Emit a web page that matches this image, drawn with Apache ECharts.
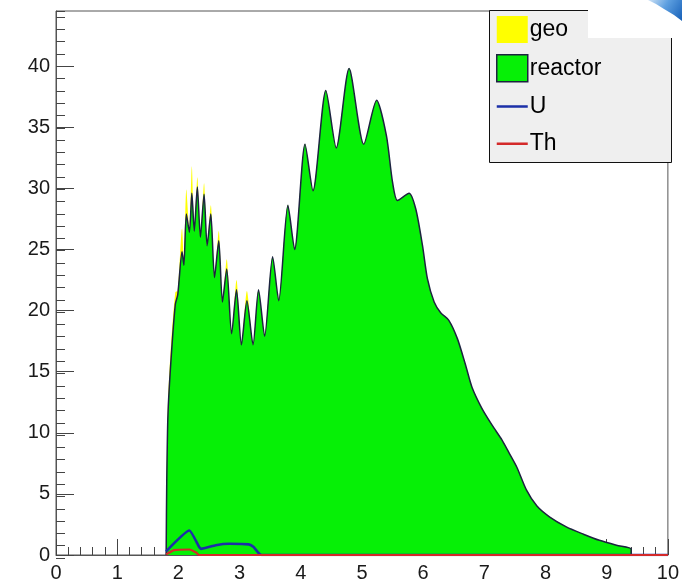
<!DOCTYPE html>
<html>
<head>
<meta charset="utf-8">
<script src="https://cdn.jsdelivr.net/npm/echarts@6/dist/echarts.min.js"></script>
<style>
  html, body { margin: 0; padding: 0; background: #ffffff; }
  #chart { width: 682px; height: 583px; }
</style>
</head>
<body>
<div id="chart"></div>
<script>
// Prompt energy (MeV) sampled along the reactor spectrum
const energy = [
  1.80, 1.81, 1.83, 1.88, 1.95, 1.99, 2.06, 2.09, 2.13, 2.18,
  2.22, 2.26, 2.31, 2.36, 2.42, 2.47, 2.53, 2.59, 2.66, 2.72,
  2.79, 2.87, 2.95, 3.03, 3.12, 3.22, 3.31, 3.41, 3.54, 3.64,
  3.79, 3.90, 4.07, 4.20, 4.41, 4.58, 4.79, 5.03, 5.24, 5.40,
  5.50, 5.58, 5.77, 5.88, 5.99, 6.07, 6.18, 6.29, 6.42, 6.56,
  6.69, 6.80, 6.96, 7.13, 7.29, 7.40, 7.53, 7.69, 7.86, 8.07,
  8.34, 8.62, 8.88, 9.16, 9.40, 9.40
];
// Reactor antineutrino events
const reactor = [
  0.0, 6.0, 11.5, 16.0, 20.5, 21.3, 24.8, 23.7, 27.9, 26.4,
  29.6, 26.5, 30.1, 26.0, 29.5, 25.3, 27.9, 22.7, 25.7, 20.7,
  23.4, 18.1, 21.7, 17.2, 20.8, 17.2, 21.7, 17.9, 24.4, 20.8,
  28.6, 25.0, 33.6, 29.8, 38.0, 33.3, 39.8, 33.6, 37.2, 34.3,
  30.5, 29.0, 29.6, 28.3, 25.3, 22.6, 20.7, 19.8, 19.2, 17.7,
  15.6, 13.7, 12.0, 10.6, 9.4, 8.4, 7.2, 5.3, 4.0, 3.1,
  2.3, 1.7, 1.2, 0.8, 0.5, 0.0
];
// Geoneutrino events stacked on top of the reactor spectrum
const geo = [
  0.0, 0.5, 1.0, 1.2, 1.0, 0.3, 1.9, 0.0, 2.0, 0.0,
  2.2, 0.0, 0.8, 0.0, 0.9, 0.0, 0.7, 0.0, 0.8, 0.0,
  0.8, 0.0, 0.8, 0.0, 0.8, 0.0, 0.0, 0.0, 0.0, 0.0,
  0.0, 0.0, 0.0, 0.0, 0.0, 0.0, 0.0, 0.0, 0.0, 0.0,
  0.0, 0.0, 0.0, 0.0, 0.0, 0.0, 0.0, 0.0, 0.0, 0.0,
  0.0, 0.0, 0.0, 0.0, 0.0, 0.0, 0.0, 0.0, 0.0, 0.0,
  0.0, 0.0, 0.0, 0.0, 0.0, 0.0
];
// Uranium chain geoneutrinos
const uEnergy = [1.80, 2.18, 2.34, 2.37, 2.61, 2.83, 3.15, 3.23, 3.31, 3.36, 10.0];
const uValues = [0.30, 2.00, 0.65, 0.50, 0.80, 0.92, 0.87, 0.65, 0.16, 0.00, 0.00];
// Thorium chain geoneutrinos
const thEnergy = [1.80, 1.93, 2.18, 2.29, 2.34, 10.0];
const thValues = [0.05, 0.40, 0.45, 0.20, 0.00, 0.00];

const xRange = [0, 10];
const yRange = [0, 44.5];
const legendNames = ['geo', 'reactor', 'U', 'Th'];

const GREEN = '#06f006';
const YELLOW = '#ffff00';
const OUTLINE = '#1c2340';
const BLUE = '#1c30a8';
const RED = '#d42a2a';
const FONT = 'Liberation Sans, Arial, Helvetica, sans-serif';

// Legend marker for the line entries: a thin bar centred in a full-height box
// (the two hairline corner dots keep the marker box as tall as the filled ones).
const LINE_ICON = 'path://M0,12.2H32V14.8H0Z M0,0H0.01V0.01H0Z M31.99,26.99H32V27H31.99Z';

const pairs = (xs, ys) => xs.map((x, i) => [x, ys[i]]);
const total = reactor.map((v, i) => v + geo[i]);

const gridBox = { left: 56, right: 10, top: 11, bottom: 25 };

const chart = echarts.init(document.getElementById('chart'), null, { renderer: 'canvas' });

chart.setOption({
  animation: false,
  backgroundColor: '#ffffff',
  grid: [
    Object.assign({ show: true, borderColor: '#555555', borderWidth: 1, backgroundColor: 'transparent' }, gridBox),
    Object.assign({ show: false }, gridBox)
  ],
  xAxis: [
    {
      type: 'value', gridIndex: 0, min: xRange[0], max: xRange[1], interval: 1,
      axisLine: { show: true, lineStyle: { color: '#555555', width: 1 } },
      axisTick: { show: true, inside: true, length: 16, lineStyle: { color: '#444444', width: 1 } },
      minorTick: { show: true, splitNumber: 5, length: 8, lineStyle: { color: '#444444', width: 1 } },
      splitLine: { show: false },
      axisLabel: { fontSize: 20, color: '#1a1a1a', fontFamily: FONT, margin: 8 }
    },
    { type: 'value', gridIndex: 1, min: xRange[0], max: xRange[1], show: false }
  ],
  yAxis: [
    {
      type: 'value', gridIndex: 0, min: yRange[0], max: yRange[1], interval: 5,
      axisLine: { show: true, lineStyle: { color: '#555555', width: 1 } },
      axisTick: { show: true, inside: true, length: 18, lineStyle: { color: '#444444', width: 1 } },
      splitLine: { show: false },
      axisLabel: { fontSize: 20, color: '#1a1a1a', fontFamily: FONT, margin: 6, showMaxLabel: false }
    },
    {
      // secondary scale carrying the unit minor ticks
      type: 'value', gridIndex: 1, min: yRange[0], max: yRange[1], interval: 1,
      axisLine: { show: false },
      axisTick: { show: true, inside: true, length: 9, lineStyle: { color: '#444444', width: 1 } },
      splitLine: { show: false },
      axisLabel: { show: false }
    }
  ],
  legend: {
    left: 489, top: 10, orient: 'vertical',
    padding: [6, 5, 5, 7],
    itemWidth: 31, itemHeight: 27, itemGap: 11,
    selectedMode: false, z: 20,
    textStyle: { fontSize: 23, color: '#000000', fontFamily: FONT, padding: [0, 0, 0, -3] },
    data: [
      { name: legendNames[0], icon: 'rect', itemStyle: { color: YELLOW, borderWidth: 0 } },
      { name: legendNames[1], icon: 'rect', itemStyle: { color: GREEN, borderColor: OUTLINE, borderWidth: 1.5 } },
      { name: legendNames[2], icon: LINE_ICON, itemStyle: { color: BLUE, borderWidth: 0 } },
      { name: legendNames[3], icon: LINE_ICON, itemStyle: { color: RED, borderWidth: 0 } }
    ]
  },
  graphic: [
    { type: 'rect', z: 10, shape: { x: 489.5, y: 10.5, width: 182, height: 152 },
      style: { fill: '#efefef', stroke: '#111111', lineWidth: 1 } },
    { type: 'rect', z: 30, shape: { x: 588, y: 0, width: 94, height: 38 }, style: { fill: '#ffffff' } },
    { type: 'polygon', z: 31,
      shape: { points: [[648, 0], [682, 0], [682, 21], [674, 15], [664, 9], [656, 4]] },
      style: { fill: { type: 'linear', x: 0, y: 0, x2: 1, y2: 1, colorStops: [
        { offset: 0, color: '#cfe3f6' }, { offset: 0.45, color: '#5d9fe0' }, { offset: 1, color: '#1660b8' }
      ] } } }
  ],
  series: [
    {
      name: 'geo', type: 'line', xAxisIndex: 0, yAxisIndex: 0,
      data: pairs(energy, total), symbol: 'none', smooth: 0.25, z: 2,
      lineStyle: { width: 0, color: YELLOW }, itemStyle: { color: YELLOW },
      areaStyle: { color: YELLOW, opacity: 1 }
    },
    {
      name: 'reactor', type: 'line', xAxisIndex: 0, yAxisIndex: 0,
      data: pairs(energy, reactor), symbol: 'none', smooth: 0.25, z: 3,
      lineStyle: { width: 1.5, color: OUTLINE }, itemStyle: { color: GREEN },
      areaStyle: { color: GREEN, opacity: 1 }
    },
    {
      name: 'U', type: 'line', xAxisIndex: 0, yAxisIndex: 0,
      data: pairs(uEnergy, uValues), symbol: 'none', smooth: 0.15, z: 4,
      lineStyle: { width: 2.6, color: BLUE }, itemStyle: { color: BLUE }
    },
    {
      name: 'Th', type: 'line', xAxisIndex: 0, yAxisIndex: 0,
      data: pairs(thEnergy, thValues), symbol: 'none', smooth: 0.15, z: 5,
      lineStyle: { width: 2.2, color: RED }, itemStyle: { color: RED }
    }
  ]
});
</script>
</body>
</html>
